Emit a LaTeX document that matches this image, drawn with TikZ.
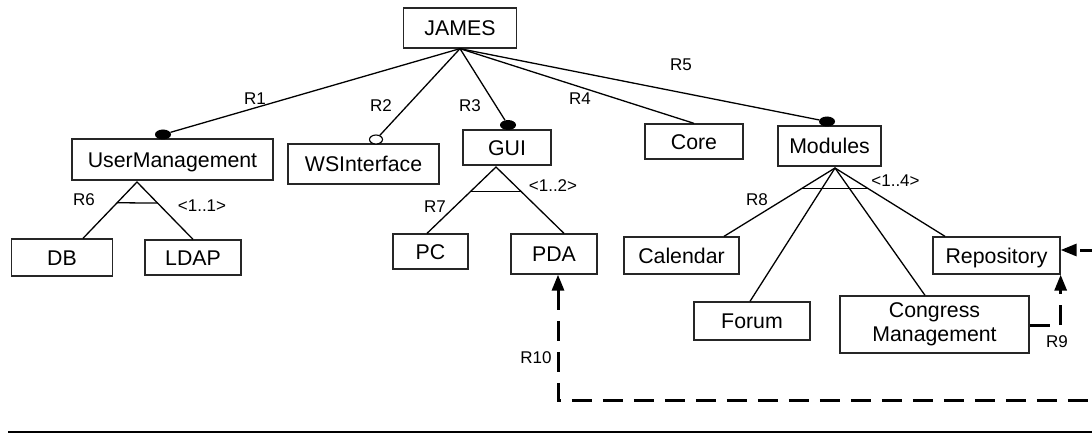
\documentclass[tikz,border=0pt]{standalone}
\usepackage{fontspec}
\setmainfont{Liberation Sans}
\usetikzlibrary{calc,arrows.meta,shapes.geometric}

\tikzset{
  featurebase/.style={draw=black!85, line width=1.3pt, inner sep=0pt,
    font=\fontsize{21.3}{24}\selectfont},
  feature/.style={featurebase, text height=15.3pt, text depth=0pt},
  rel/.style={inner sep=0pt, font=\fontsize{17}{20}\selectfont},
  edge/.style={line width=1.3pt},
  mandatory/.style={ellipse, fill=black, inner sep=0pt,
    minimum width=16pt, minimum height=10pt},
  optional/.style={ellipse, draw=black, fill=white, line width=1.1pt, inner sep=0pt,
    minimum width=13pt, minimum height=9pt},
  requires/.style={line width=3pt, dash pattern=on 20pt off 11pt},
  reqtip/.tip={Triangle[length=16pt,width=12pt]}
}

\begin{document}
\begin{tikzpicture}[x=1pt,y=-1pt]
\clip (0,0) rectangle (1092,433);

% features
\node[feature, minimum width=113pt, minimum height=40pt] (james)    at (460,28)     {JAMES};
\node[feature, minimum width=201pt, minimum height=41pt] (um)       at (172.5,159.5){UserManagement};
\node[feature, minimum width=151pt, minimum height=40pt] (ws)       at (363.5,164)  {WSInterface};
\node[feature, minimum width=88pt,  minimum height=35pt] (gui)      at (507,147.5)  {GUI};
\node[feature, minimum width=98pt,  minimum height=35pt] (core)     at (694,141.5)  {Core};
\node[feature, minimum width=103pt, minimum height=40pt] (modules)  at (829.5,146)  {Modules};
\node[feature, minimum width=101pt, minimum height=37pt] (db)       at (62,257.5)   {DB};
\node[feature, minimum width=96pt,  minimum height=35pt] (ldap)     at (193,257.5)  {LDAP};
\node[feature, minimum width=75pt,  minimum height=35pt] (pc)       at (430.5,251.5){PC};
\node[feature, minimum width=86pt,  minimum height=40pt] (pda)      at (554,254)    {PDA};
\node[feature, minimum width=115pt, minimum height=37pt] (calendar) at (681.5,255.5){Calendar};
\node[feature, minimum width=116pt, minimum height=38pt] (forum)    at (752,321)    {Forum};
\node[featurebase, align=center, minimum width=189pt, minimum height=57pt] (congress) at (934.5,324.5)
  {Congress\\Management};
\node[feature, minimum width=127pt, minimum height=37pt] (repo)     at (996.5,255.5){Repository};

% mandatory / optional markers
\node[mandatory] (umdot)  at (163,134.5) {};
\node[optional]  (wsdot)  at (376,139.5) {};
\node[mandatory] (guidot) at (508,125)   {};
\node[mandatory] (moddot) at (827,121.5) {};

% relations from the root
\draw[edge] (james.south) -- (umdot);
\draw[edge] (james.south) -- (wsdot);
\draw[edge] (james.south) -- (guidot);
\draw[edge] (james.south) -- (core.north);
\draw[edge] (james.south) -- (moddot);

% group decompositions
\coordinate (umfork)  at (137,182);
\coordinate (guifork) at (496,167);
\coordinate (modfork) at (835,168);

\coordinate (dbtop)    at ($(db.north)+(21,0)$);
\coordinate (ldaptop)  at (ldap.north);
\coordinate (pctop)    at ($(pc.north)+(-3.5,0)$);
\coordinate (pdatop)   at ($(pda.north)+(10,0)$);
\coordinate (caltop)   at ($(calendar.north)+(42.5,0)$);
\coordinate (forumtop) at ($(forum.north)+(-2,0)$);
\coordinate (congtop)  at ($(congress.north)+(-9.5,0)$);
\coordinate (repotop)  at ($(repo.north)+(-51.5,0)$);

\draw[edge] (dbtop) -- (umfork) -- (ldaptop);
\draw[edge] ($(umfork)!0.368!(dbtop)$) -- ($(umfork)!0.368!(ldaptop)$);

\draw[edge] (pctop) -- (guifork) -- (pdatop);
\draw[edge] ($(guifork)!0.373!(pctop)$) -- ($(guifork)!0.373!(pdatop)$);

\draw[edge] (caltop) -- (modfork) -- (repotop);
\draw[edge] (modfork) -- (forumtop);
\draw[edge] (modfork) -- (congtop);
\draw[edge] ($(modfork)!0.304!(caltop)$) -- ($(modfork)!0.304!(repotop)$);

% requires constraints
\coordinate (pdatip)  at ($(pda.south)+(4,0)$);
\coordinate (repotip) at ($(repo.east)+(0,-5.5)$);
\coordinate (outer)   at (1102,400);
\draw[requires, -reqtip] ($(congress.east)+(0,0.5)$) -| (repo.south east);
\draw[requires, reqtip-reqtip] (pdatip) |- (outer) |- (repotip);

% relation labels
\node[rel] (l1)  at (255,99)    {R1};
\node[rel] (l2)  at (381,106)   {R2};
\node[rel] (l3)  at (470,106)   {R3};
\node[rel] (l4)  at (580,98.5)  {R4};
\node[rel] (l5)  at (681,65)    {R5};
\node[rel] (l6)  at (84,200)    {R6};
\node[rel] (g1)  at (202,206)   {<1..1>};
\node[rel] (l7)  at (435,207)   {R7};
\node[rel] (g2)  at (553,186)   {<1..2>};
\node[rel] (l8)  at (757,199.5) {R8};
\node[rel] (g4)  at (895.5,180.5){<1..4>};
\node[rel] (l9)  at (1057,342)  {R9};
\node[rel] (l10) at (536,357.5) {R10};

% rule under the figure
\coordinate (ruleleft)  at (8,432);
\coordinate (ruleright) at (1092,432);
\draw[line width=2pt] (ruleleft) -- (ruleright);
\end{tikzpicture}
\end{document}
